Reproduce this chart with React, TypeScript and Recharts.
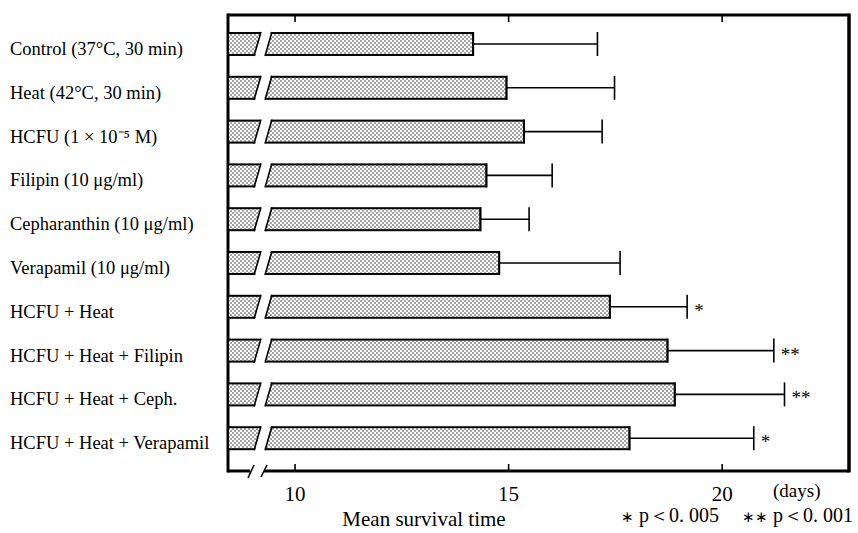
import React from "react";
import { ComposedChart, Bar, XAxis, YAxis, ErrorBar, Customized } from "recharts";

const categories = [
  "Control (37°C,  30 min)",
  "Heat (42°C,  30 min)",
  "HCFU (1 × 10⁻⁵ M)",
  "Filipin (10 μg/ml)",
  "Cepharanthin (10 μg/ml)",
  "Verapamil (10 μg/ml)",
  "HCFU + Heat",
  "HCFU + Heat + Filipin",
  "HCFU + Heat + Ceph.",
  "HCFU + Heat + Verapamil",
];
const means = [14.17, 14.95, 15.36, 14.48, 14.34, 14.78, 17.37, 18.72, 18.89, 17.83];
const sds = [2.91, 2.53, 1.83, 1.54, 1.14, 2.83, 1.81, 2.49, 2.57, 2.91];
const stars = ["", "", "", "", "", "", "*", "**", "**", "*"];
const xTicks = [10, 15, 20];

const X_MIN = 8.43;
const X_MAX = 22.97;

const W = 858;
const H = 533;
const TOP = 15;
const RIGHT_M = 9;
const Y_AXIS_W = 228;
const X_AXIS_H = 62;
const PLOT_L = Y_AXIS_W;
const PLOT_R = W - RIGHT_M;
const PLOT_B = H - X_AXIS_H;

const FONT = '"Liberation Serif", "Times New Roman", serif';

const data = categories.map((name, i) => ({
  name,
  mean: means[i],
  err: [0, sds[i]],
  sd: sds[i],
  star: stars[i],
}));

// bar with the axis break cut and the significance marks
const BreakBar = (props: any) => {
  const { x, y, width, height, payload } = props;
  if (width == null || width <= 0) return null;
  const top = y;
  const bot = y + height;
  const pxPerUnit = width / (payload.mean - X_MIN);
  const errX = x + width + payload.sd * pxPerUnit;
  return (
    <g>
      <rect x={x} y={top} width={width} height={height} fill="url(#dots)" stroke="#000" strokeWidth={2} />
      <polygon
        points={`${x + 27},${bot + 2} ${x + 33},${top - 2} ${x + 43},${top - 2} ${x + 37},${bot + 2}`}
        fill="#fff"
      />
      <line x1={x + 26} y1={bot + 1} x2={x + 33} y2={top - 1} stroke="#000" strokeWidth={1.6} />
      <line x1={x + 37} y1={bot + 1} x2={x + 44} y2={top - 1} stroke="#000" strokeWidth={1.6} />
      {payload.star ? (
        <text x={errX + 7} y={top + height / 2 + 10} fontSize={19} fontFamily={FONT} fill="#000">
          {payload.star}
        </text>
      ) : null}
    </g>
  );
};

const YTick = (props: any) => {
  const { y, payload } = props;
  return (
    <text x={10} y={y + 11} fontSize={18.5} fontFamily={FONT} fill="#000">
      {payload.value}
    </text>
  );
};

const XTick = (props: any) => {
  const { x, payload } = props;
  return (
    <g>
      <line x1={x} y1={PLOT_B} x2={x} y2={PLOT_B - 7} stroke="#000" strokeWidth={1.6} />
      <line x1={x} y1={TOP} x2={x} y2={TOP + 7} stroke="#000" strokeWidth={1.6} />
      <text x={x} y={PLOT_B + 30} textAnchor="middle" fontSize={21} fontFamily={FONT} fill="#000">
        {payload.value}
      </text>
    </g>
  );
};

const Frame = () => (
  <g>
    <defs>
      <pattern id="dots" width={4} height={4} patternUnits="userSpaceOnUse">
        <rect width={4} height={4} fill="#fff" />
        <circle cx={1} cy={1} r={0.7} fill="#000" />
        <circle cx={3} cy={3} r={0.7} fill="#000" />
      </pattern>
    </defs>
    <line x1={PLOT_L} y1={TOP} x2={PLOT_R} y2={TOP} stroke="#000" strokeWidth={3} />
    <line x1={PLOT_L} y1={TOP - 1.5} x2={PLOT_L} y2={PLOT_B + 1.5} stroke="#000" strokeWidth={3} />
    <line x1={PLOT_R} y1={TOP - 1.5} x2={PLOT_R} y2={PLOT_B + 1.5} stroke="#000" strokeWidth={3.5} />
    <line x1={PLOT_L} y1={PLOT_B} x2={PLOT_L + 22} y2={PLOT_B} stroke="#000" strokeWidth={3} />
    <line x1={PLOT_L + 36} y1={PLOT_B} x2={PLOT_R} y2={PLOT_B} stroke="#000" strokeWidth={3} />
    <line x1={PLOT_L + 20} y1={PLOT_B + 7} x2={PLOT_L + 26} y2={PLOT_B - 6} stroke="#000" strokeWidth={1.6} />
    <line x1={PLOT_L + 33} y1={PLOT_B + 6} x2={PLOT_L + 39} y2={PLOT_B - 6} stroke="#000" strokeWidth={1.6} />
    <text x={773} y={PLOT_B + 26} fontSize={19} fontFamily={FONT} fill="#000">(days)</text>
    <text x={424} y={H - 7} textAnchor="middle" fontSize={21} fontFamily={FONT} fill="#000">
      Mean survival time
    </text>
    <text x={621} y={H - 11} fontSize={20} fontFamily={FONT} fill="#000">
      <tspan fontSize={15}>∗</tspan> p＜0. 005
    </text>
    <text x={742} y={H - 11} fontSize={20} fontFamily={FONT} fill="#000">
      <tspan fontSize={15}>∗∗</tspan> p＜0. 001
    </text>
  </g>
);

export default function App() {
  return (
    <div style={{ position: "absolute", left: 0, top: 0, background: "#fff" }}>
      <ComposedChart
        width={W}
        height={H}
        data={data}
        layout="vertical"
        margin={{ top: TOP, right: RIGHT_M, bottom: 0, left: 0 }}
      >
        <Customized component={Frame} />
        <XAxis
          type="number"
          domain={[X_MIN, X_MAX]}
          allowDataOverflow
          ticks={xTicks}
          height={X_AXIS_H}
          axisLine={false}
          tickLine={false}
          tick={<XTick />}
        />
        <YAxis
          type="category"
          dataKey="name"
          width={Y_AXIS_W}
          axisLine={false}
          tickLine={false}
          padding={{ top: 7, bottom: 11 }}
          tick={<YTick />}
          interval={0}
        />
        <Bar dataKey="mean" barSize={22} shape={<BreakBar />} isAnimationActive={false}>
          <ErrorBar dataKey="err" direction="x" width={12} stroke="#000" strokeWidth={1.6} />
        </Bar>
      </ComposedChart>
    </div>
  );
}
